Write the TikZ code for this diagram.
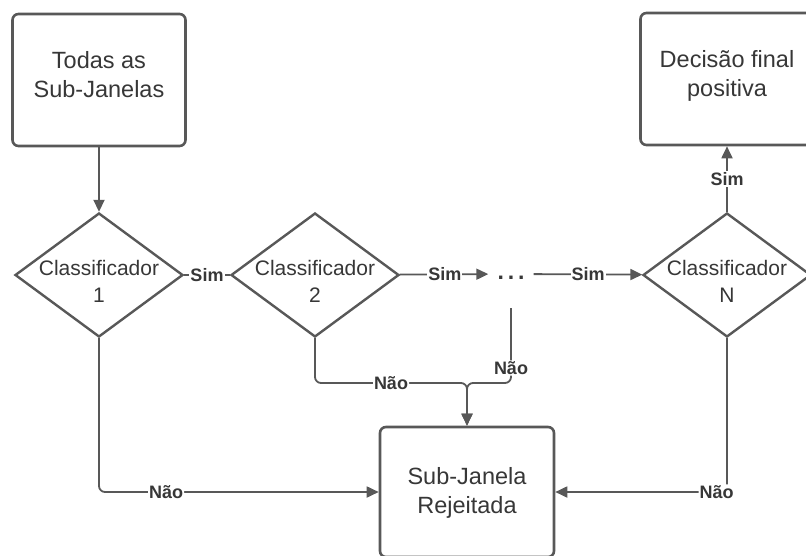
\documentclass[tikz,border=0pt]{standalone}
\usepackage{fontspec}
\setmainfont{Liberation Sans}
\usetikzlibrary{shapes.geometric,arrows.meta}
\definecolor{lineclr}{RGB}{88,88,88}
\definecolor{txtclr}{RGB}{55,55,55}
% two centred lines, baseline moved by #1
\newcommand{\twolines}[3][0pt]{\raisebox{#1}{\makebox[0pt]{\begin{tabular}{@{}c@{}}#2\\#3\end{tabular}}}}
\tikzset{
  box/.style={draw=lineclr, line width=2.6pt, rounded corners=6pt, fill=white,
    minimum width=173pt, minimum height=132pt, text height=0pt, text depth=0pt, text=txtclr,
    font=\fontsize{23.5}{29}\selectfont},
  decision/.style={diamond, draw=lineclr, line width=2.4pt, fill=white, inner sep=0pt,
    minimum width=168pt, minimum height=124pt, text height=0pt, text depth=0pt, text=txtclr,
    font=\fontsize{21}{27}\selectfont},
  conn/.style={draw=lineclr, line width=1.8pt},
  arr/.style={conn, -{Triangle[length=12pt,width=11pt]}},
  lbl/.style={fill=white, inner sep=1pt, text=txtclr, font=\fontsize{18}{18}\selectfont\bfseries},
}
\begin{document}
\begin{tikzpicture}[x=1pt,y=1pt,yscale=-1]
\useasboundingbox (0,0) rectangle (806,555);

% boxes
\node[box] (todas) at (99,80) {\twolines[-3pt]{Todas as}{Sub-Janelas}};
\node[box] (decisao) at (727,79) {\twolines[-3pt]{Decisão final}{positiva}};
\node[box, minimum width=174pt, minimum height=130pt] (rej) at (467,492) {\twolines[-7pt]{Sub-Janela}{Rejeitada}};

% classifiers
\node[decision] (c1) at (99,275) {\twolines[-14pt]{Classificador}{1}};
\node[decision] (c2) at (315,275) {\twolines[-14pt]{Classificador}{2}};
\node[decision] (cN) at (727,275) {\twolines[-14pt]{Classificador}{N}};
\node[inner sep=0pt, minimum width=45pt, minimum height=68pt, text height=10pt, text depth=0pt,
  text=txtclr, font=\fontsize{23}{23}\selectfont\bfseries] (dots) at (511,274) {.\,.\,.};
\coordinate (merge) at (467,383);

% Sim
\draw[arr] (todas) -- (c1);
\draw[conn] (c1) -- node[lbl]{Sim} (c2);
\draw[arr] (c2) -- node[lbl,pos=0.51]{Sim} (dots);
\draw[arr] (dots) -- node[lbl]{Sim} (cN);
\draw[arr] (cN) -- node[lbl]{Sim} (decisao);

% Nao
\draw[arr, rounded corners=6pt] (c1.south) |- node[lbl,pos=0.62]{Não} (rej.west);
\draw[arr, rounded corners=6pt] (cN.south) |- node[lbl,pos=0.53]{Não} (rej.east);
\draw[arr, rounded corners=6pt] (c2.south) |- node[lbl,pos=0.75]{Não} (merge) -- (rej.north);
\draw[arr, rounded corners=6pt] (dots.south) |- node[lbl,pos=0.4]{Não} (merge) -- (rej.north);
\end{tikzpicture}
\end{document}
